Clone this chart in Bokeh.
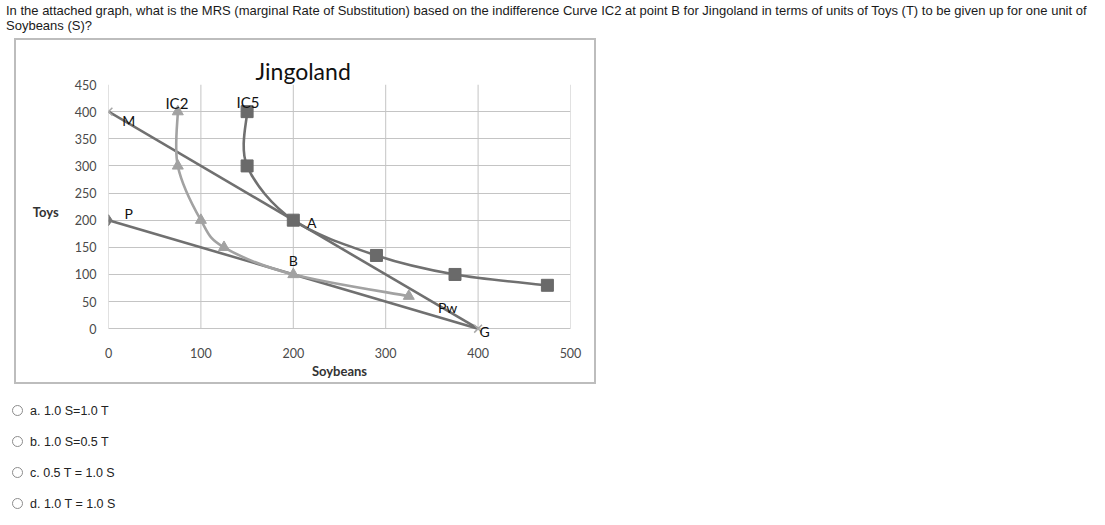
from bokeh.plotting import figure
from bokeh.models import Label, Range1d, FixedTicker, Div, Title
from bokeh.layouts import column
from bokeh.embed import file_html
from bokeh.resources import INLINE

# ---------------- data ----------------
question_line1 = ("In the attached graph, what is the MRS (marginal Rate of Substitution) based on the "
                  "indifference Curve IC2 at point B for Jingoland in terms of units of Toys (T) to be given up for one unit of")
question_line2 = "Soybeans (S)?"
options = ["a. 1.0 S=1.0 T", "b. 1.0 S=0.5 T", "c. 0.5 T = 1.0 S", "d. 1.0 T = 1.0 S"]

chart_title = "Jingoland"
x_label = "Soybeans"
y_label = "Toys"
x_ticks = [0, 100, 200, 300, 400, 500]
y_ticks = [0, 50, 100, 150, 200, 250, 300, 350, 400, 450]

# budget line M-G
mg_x = [0, 400]
mg_y = [400, 0]
# budget line P-G
pg_x = [0, 400]
pg_y = [200, 0]
# indifference curve IC2
ic2_x = [75, 75, 100, 125, 200, 325]
ic2_y = [400, 300, 200, 150, 100, 60]
# indifference curve IC5
ic5_x = [150, 150, 200, 290, 375, 475]
ic5_y = [400, 300, 200, 135, 100, 80]

# ---------------- helpers ----------------
def smooth_segments(xs, ys):
    """Excel-like smoothed line: cubic Bezier control points derived from neighbours."""
    n = len(xs)
    out = dict(x0=[], y0=[], x1=[], y1=[], cx0=[], cy0=[], cx1=[], cy1=[])
    for i in range(n - 1):
        a = i - 1 if i > 0 else i
        d = i + 2 if i + 2 < n else i + 1
        out["x0"].append(xs[i]); out["y0"].append(ys[i])
        out["x1"].append(xs[i + 1]); out["y1"].append(ys[i + 1])
        out["cx0"].append(xs[i] + (xs[i + 1] - xs[a]) / 6.0)
        out["cy0"].append(ys[i] + (ys[i + 1] - ys[a]) / 6.0)
        out["cx1"].append(xs[i + 1] - (xs[d] - xs[i]) / 6.0)
        out["cy1"].append(ys[i + 1] - (ys[d] - ys[i]) / 6.0)
    return out

FONT = "Lato"
GRID = "#c4c4c4"
DARK = "#707070"
LIGHT = "#a2a2a2"

x_lo, x_hi = x_ticks[0], x_ticks[-1]
y_lo, y_hi = y_ticks[0], y_ticks[-1]

# ---------------- chart ----------------
p = figure(width=582, height=346, output_backend="svg", toolbar_location=None,
           x_range=Range1d(x_lo, x_hi), y_range=Range1d(y_lo - 18, y_hi),
           min_border_left=92, min_border_right=28, min_border_top=44, min_border_bottom=48,
           background_fill_color="white", border_fill_color="white")
p.margin = (0, 0, 0, 14)
p.styles = {"border": "2px solid #bdbdbd"}
p.outline_line_color = None

p.title = Title(text=chart_title, align="left", offset=147, standoff=0,
                text_font=FONT, text_font_size="23px", text_font_style="normal",
                text_color="#111111")

p.xaxis.ticker = FixedTicker(ticks=x_ticks)
p.yaxis.ticker = FixedTicker(ticks=y_ticks)
for ax in (p.xaxis, p.yaxis):
    ax.axis_line_color = None
    ax.major_tick_line_color = None
    ax.minor_tick_line_color = None
    ax.major_tick_out = 0
    ax.major_tick_in = 0
    ax.minor_tick_out = 0
    ax.major_label_text_font = FONT
    ax.major_label_text_font_size = "12.5px"
    ax.major_label_text_color = "#4a4a4a"
    ax.axis_label_text_font = FONT
    ax.axis_label_text_font_size = "13px"
    ax.axis_label_text_font_style = "bold"
    ax.axis_label_text_color = "#333333"
p.xaxis.axis_label = x_label
p.yaxis.axis_label = y_label
p.yaxis.axis_label_orientation = "horizontal"
p.yaxis.major_label_standoff = 12
p.yaxis.axis_label_standoff = 13
p.xaxis.major_label_standoff = 9
p.xaxis.axis_label_standoff = 2

# grid: horizontal via ygrid, vertical drawn only over the value range
p.xgrid.grid_line_color = None
p.ygrid.ticker = FixedTicker(ticks=y_ticks)
p.ygrid.grid_line_color = GRID
p.segment(x0=x_ticks, y0=[y_lo] * len(x_ticks), x1=x_ticks, y1=[y_hi] * len(x_ticks),
          line_color=GRID, line_width=1)

# lines
p.line(mg_x, mg_y, line_color=DARK, line_width=2.6)
p.line(pg_x, pg_y, line_color=DARK, line_width=2.6)
s2 = smooth_segments(ic2_x, ic2_y)
p.bezier(**s2, line_color=LIGHT, line_width=2.6)
s5 = smooth_segments(ic5_x, ic5_y)
p.bezier(**s5, line_color=DARK, line_width=2.6)

# markers
p.scatter(ic2_x, ic2_y, marker="triangle", size=11, fill_color=LIGHT, line_color=LIGHT)
p.scatter(ic5_x, ic5_y, marker="square", size=12, fill_color="#6a6a6a", line_color="#6a6a6a")
p.scatter([pg_x[0]], [pg_y[0]], marker="diamond", size=11, fill_color="#777777", line_color="#777777")
p.scatter([mg_x[0], mg_x[1]], [mg_y[0], mg_y[1]], marker="x", size=11, line_color="#a8a8a8", line_width=1.5)

# point labels
for t, x, y, fs in [("IC2", 74, 415, "15px"), ("IC5", 151, 418, "15px"),
                    ("M", 22, 384, "14px"), ("P", 22, 212, "14px"),
                    ("A", 220, 196, "14px"), ("B", 200, 126, "14px"),
                    ("Pw", 367, 40, "14px"), ("G", 407, -5, "14px")]:
    p.add_layout(Label(x=x, y=y, text=t, text_font=FONT, text_font_size=fs,
                       text_color="#111111", text_align="center", text_baseline="middle"))

# ---------------- page text ----------------
q = Div(text=f"{question_line1}<br>{question_line2}", width=1100, height=30, margin=(3, 0, 5, 6),
        styles={"font-family": "'Liberation Sans', Arial, sans-serif", "font-size": "13px",
                "line-height": "15px", "color": "#1a1a1a", "white-space": "nowrap"})

opt_html = "".join(
    f"<div style='height:31px;line-height:31px;white-space:nowrap'>"
    f"<span style='display:inline-block;box-sizing:border-box;width:11px;height:11px;border:1px solid #8c8c8c;"
    f"border-radius:50%;vertical-align:middle;margin-right:7px;position:relative;top:-1px'></span>{o}</div>"
    for o in options)
opts = Div(text=opt_html, width=300, height=124, margin=(12, 0, 0, 12),
           styles={"font-family": "'Liberation Sans', Arial, sans-serif", "font-size": "12.5px",
                   "color": "#222222"})

layout = column(q, p, opts)
open("out.html", "w").write(file_html(layout, INLINE))
